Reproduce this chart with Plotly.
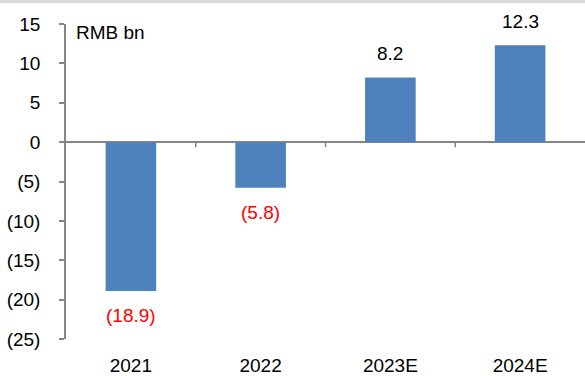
import plotly.graph_objects as go

# Net profit, RMB bn
years = ["2021", "2022", "2023E", "2024E"]
net_profit = [-18.9, -5.8, 8.2, 12.3]
y_ticks = [15, 10, 5, 0, -5, -10, -15, -20, -25]

BAR = "#4F81BD"
AXIS = "#868686"
FONT = "Liberation Sans, Arial, sans-serif"
FS = 19


def fmt_num(v, decimals=0):
    s = f"{abs(v):.{decimals}f}"
    return f"({s})" if v < 0 else s


fig = go.Figure(
    go.Bar(
        x=years,
        y=net_profit,
        marker=dict(color=BAR, line=dict(width=0)),
        width=0.39,
        hoverinfo="x+y",
    )
)

# value labels above positive bars, below negative bars (red, bracketed);
# x given as category index so "2021" is not read as a number
for i, v in enumerate(net_profit):
    fig.add_annotation(
        x=i,
        y=v,
        text=fmt_num(v, 1),
        showarrow=False,
        yshift=24 if v >= 0 else -25,
        font=dict(size=FS, color="#000000" if v >= 0 else "#FF0000", family=FONT),
    )

# unit label
fig.add_annotation(
    xref="paper", yref="paper",
    x=8 / 520, y=0.972,
    xanchor="left", yanchor="middle",
    text="RMB bn", showarrow=False,
    font=dict(size=FS, color="#000000", family=FONT),
)

# category separators hanging from the zero line
for i in range(len(years) - 1):
    fig.add_shape(
        type="line", xref="x", yref="y",
        x0=i + 0.5, x1=i + 0.5,
        ysizemode="pixel", yanchor=0, y0=0, y1=-5,
        line=dict(color=AXIS, width=1.5),
    )

# thin grey band across the top of the figure
fig.add_shape(
    type="rect", xref="paper", yref="paper",
    x0=-0.2, x1=1.2,
    ysizemode="pixel", yanchor=1, y0=20.7, y1=26,
    fillcolor="#D9D9D9", line=dict(width=0), layer="above",
)

fig.update_layout(
    width=585, height=376,
    margin=dict(l=66, r=0, t=24, b=33),
    paper_bgcolor="white", plot_bgcolor="white",
    showlegend=False,
    font=dict(family=FONT, size=FS, color="#000000"),
    xaxis=dict(
        type="category",
        range=[-0.5, len(years) - 0.5],
        showline=False, showgrid=False, zeroline=False,
        ticks="", ticklabelstandoff=13,
        tickfont=dict(size=FS, color="#000000"),
        fixedrange=True,
    ),
    yaxis=dict(
        range=[min(y_ticks), max(y_ticks)],
        tickmode="array",
        tickvals=y_ticks,
        ticktext=[fmt_num(t) for t in y_ticks],
        showgrid=False,
        showline=True, linecolor=AXIS, linewidth=1.5,
        ticks="outside", ticklen=5, tickcolor=AXIS, tickwidth=1.5,
        ticklabelstandoff=15,
        zeroline=True, zerolinecolor=AXIS, zerolinewidth=1.5,
        tickfont=dict(size=FS, color="#000000"),
        fixedrange=True,
    ),
)

fig.write_html("out.html")
